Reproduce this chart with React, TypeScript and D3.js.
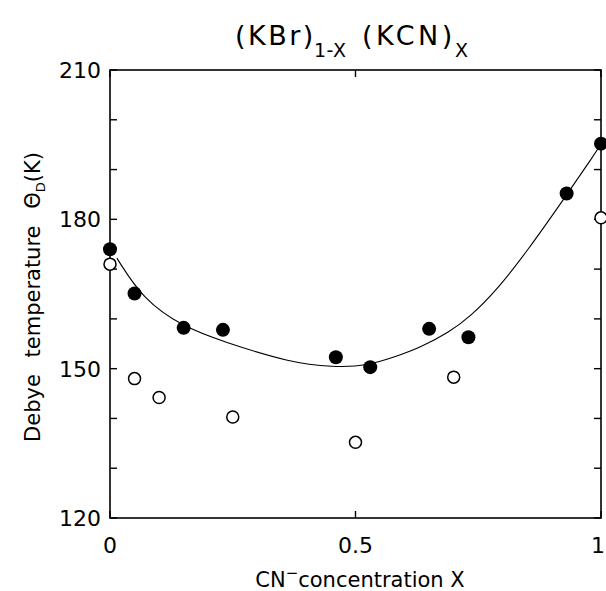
import React from 'react';
import * as d3 from 'd3';

// filled circles
const filledX = [0, 0.05, 0.15, 0.23, 0.46, 0.53, 0.65, 0.73, 0.93, 1.0];
const filledT = [174, 165.1, 158.2, 157.8, 152.3, 150.3, 158, 156.3, 185.2, 195.2];
// open circles
const openX = [0, 0.05, 0.1, 0.25, 0.5, 0.7, 1.0];
const openT = [171, 148, 144.2, 140.3, 135.2, 148.3, 180.3];
// fitted curve
const fitX = [0.014, 0.068, 0.149, 0.231, 0.367, 0.455, 0.523, 0.59, 0.631, 0.692, 0.733, 0.788, 0.851, 0.923, 0.988, 1.0];
const fitT = [172.2, 163.8, 158.4, 155.4, 151.2, 150.3, 150.5, 152.7, 154.2, 157.4, 160.4, 165.8, 173.8, 183.9, 193.2, 195.2];

const xTicks = [0, 0.5, 1];
const xTickLabels = ['0', '0.5', '1'];
const yLabelTicks = [120, 150, 180, 210];

const W = 606, H = 591;
const FONT = '"DejaVu Sans", sans-serif';

const App = () => {
    const x = d3.scaleLinear().domain([0, 1]).range([110, 601]);
    const y = d3.scaleLinear().domain([120, 210]).range([518, 70]);
    const minorY = d3.range(120, 211, 10);

    const line = d3.line<number>()
        .x((_, i) => x(fitX[i]))
        .y((d) => y(d))
        .curve(d3.curveBasis);

    const [x0, x1] = x.range();
    const [yb, yt] = y.range();
    const tl = 7;

    return (
        <svg width={W} height={H} style={{ position: 'absolute', left: 0, top: 0, background: '#fff' }} fontFamily={FONT}>
            {/* title */}
            <text y={45} fontSize={27} fill="#000">
                <tspan x={235} letterSpacing={2.5}>(KBr)</tspan>
                <tspan x={314} fontSize={19} dy={12} letterSpacing={0.5}>1-X</tspan>
                <tspan x={362} dy={-12} letterSpacing={3.5}>(KCN)</tspan>
                <tspan x={455} fontSize={19} dy={12}>X</tspan>
            </text>

            {/* frame */}
            <rect x={x0} y={yt} width={x1 - x0} height={yb - yt} fill="none" stroke="#000" strokeWidth={1.6} />

            {/* y ticks, both sides */}
            {minorY.map((t) => (
                <g key={'yt' + t}>
                    <line x1={x0} x2={x0 + tl} y1={y(t)} y2={y(t)} stroke="#000" strokeWidth={1.4} />
                    <line x1={x1} x2={x1 - tl} y1={y(t)} y2={y(t)} stroke="#000" strokeWidth={1.4} />
                </g>
            ))}
            {yLabelTicks.map((t) => (
                <text key={'yl' + t} x={101} y={y(t)} dy="0.36em" textAnchor="end" fontSize={22} fill="#000">{t}</text>
            ))}

            {/* x ticks */}
            {xTicks.map((t, i) => (
                <g key={'xt' + t}>
                    <line x1={x(t)} x2={x(t)} y1={yb} y2={yb - tl} stroke="#000" strokeWidth={1.4} />
                    <line x1={x(t)} x2={x(t)} y1={yt} y2={yt + tl} stroke="#000" strokeWidth={1.4} />
                    <text x={Math.min(x(t), W - 8)} y={553} textAnchor="middle" fontSize={22} fill="#000">{xTickLabels[i]}</text>
                </g>
            ))}

            {/* axis labels */}
            <text x={360} y={587} textAnchor="middle" fontSize={21} fill="#000">
                CN<tspan fontSize={15} dy={-9}>−</tspan><tspan dy={9}>concentration X</tspan>
            </text>
            <text transform="translate(40,297) rotate(-90)" textAnchor="middle" fontSize={21} fill="#000" wordSpacing={10}>
                Debye temperature Θ<tspan fontSize={13} dy={5}>D</tspan><tspan dy={-5} wordSpacing={0}>(K)</tspan>
            </text>

            {/* fit curve */}
            <path d={line(fitT) || ''} fill="none" stroke="#000" strokeWidth={1.1} />

            {/* data */}
            {openX.map((v, i) => (
                <circle key={'o' + i} cx={x(v)} cy={y(openT[i])} r={6} fill="#fff" stroke="#000" strokeWidth={1.5} />
            ))}
            {filledX.map((v, i) => (
                <circle key={'f' + i} cx={x(v)} cy={y(filledT[i])} r={7} fill="#000" />
            ))}
        </svg>
    );
};

export default App;
